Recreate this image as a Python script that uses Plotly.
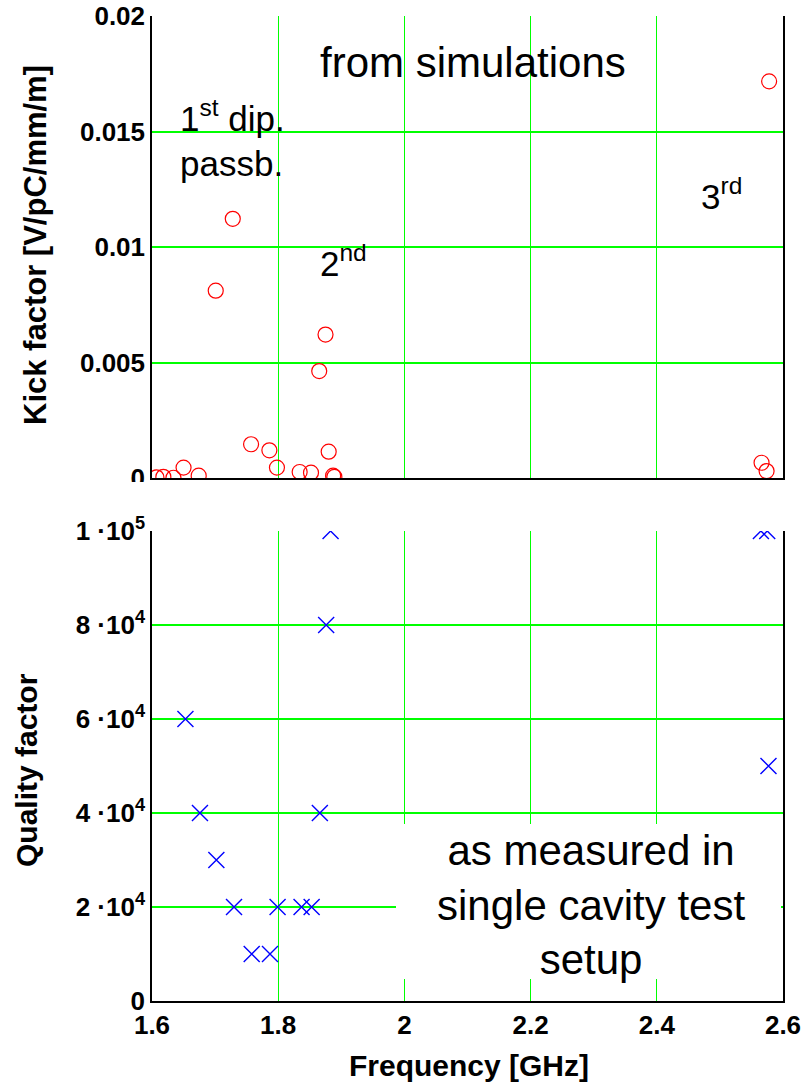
import plotly.graph_objects as go

# ---- data ----
freq_sim = [1.607, 1.618, 1.634, 1.650, 1.674, 1.701, 1.728, 1.757, 1.786, 1.798,
            1.834, 1.852, 1.865, 1.875, 1.880, 1.887, 1.889, 2.566, 2.574, 2.578]
kick_sim = [0.00003, 0.00005, 0.00001, 0.00045, 0.0001, 0.00811, 0.01122, 0.00146, 0.0012, 0.00045,
            0.00026, 0.00023, 0.00463, 0.00621, 0.00114, 0.0001, 0.00005, 0.00066, 0.0003, 0.01717]

freq_meas = [1.653, 1.676, 1.702, 1.730, 1.758, 1.787, 1.799, 1.837, 1.853, 1.866,
             1.876, 1.883, 2.565, 2.575, 2.577]
q_meas = [60000, 40000, 30000, 20000, 10000, 10000, 20000, 20000, 20000, 40000,
          80000, 100000, 100000, 100000, 50000]

x_ticks = [1.6, 1.8, 2.0, 2.2, 2.4, 2.6]
x_ticktext = ["1.6", "1.8", "2", "2.2", "2.4", "2.6"]
kick_ticks = [0, 0.005, 0.01, 0.015, 0.02]
kick_ticktext = ["0", "0.005", "0.01", "0.015", "0.02"]
q_ticks = [0, 20000, 40000, 60000, 80000, 100000]
q_ticktext = ["0", "2 ·10<sup>4</sup>", "4 ·10<sup>4</sup>", "6 ·10<sup>4</sup>",
              "8 ·10<sup>4</sup>", "1 ·10<sup>5</sup>"]

W, H = 810, 1083
ML, MR, MT, MB = 152, 27, 16, 82
plot_h = H - MT - MB
plot_w = W - ML - MR

def py(pix):  # pixel y (from top) -> paper fraction
    return (H - MB - pix) / plot_h

GREEN = "#00ff00"
tickfont = dict(family="Liberation Sans, Arial", size=26, color="black", weight="bold")

def xax(**kw):
    d = dict(range=[1.6, 2.6], tickvals=x_ticks, ticktext=x_ticktext, domain=[0, 1],
             showline=True, linecolor="black", linewidth=1.5, mirror=False,
             ticks="", tickfont=tickfont, showgrid=True, gridcolor=GREEN, gridwidth=1,
             zeroline=False)
    d.update(kw)
    return d

def yax(**kw):
    d = dict(showline=True, linecolor="black", linewidth=1.5, mirror=True,
             ticks="", tickfont=tickfont, showgrid=True, gridcolor=GREEN, gridwidth=2,
             zeroline=False)
    d.update(kw)
    return d

fig = go.Figure()
fig.add_trace(go.Scatter(x=freq_sim, y=kick_sim, mode="markers", xaxis="x", yaxis="y",
                         marker=dict(symbol="circle-open", size=15, color="#ff0000",
                                     line=dict(width=1.2, color="#ff0000")),
                         showlegend=False))
fig.add_trace(go.Scatter(x=freq_meas, y=q_meas, mode="markers", xaxis="x2", yaxis="y2",
                         marker=dict(symbol="x-thin-open", size=16, color="#0000ff",
                                     line=dict(width=1.4, color="#0000ff")),
                         showlegend=False))

shapes = [
    # white box behind the bottom-panel text
    dict(type="rect", xref="paper", yref="paper",
         x0=(396 - ML) / plot_w, x1=(781 - ML) / plot_w,
         y0=py(979), y1=py(824), fillcolor="white", line=dict(width=0), layer="above"),
    # partially hide top-panel "0" label (as in the original)
    dict(type="rect", xref="paper", yref="paper",
         x0=-0.3, x1=-0.005, y0=py(510), y1=py(482),
         fillcolor="white", line=dict(width=0), layer="above"),
]

txt = dict(family="Liberation Sans, Arial", color="black")

def tfont(size):
    return dict(family="Liberation Sans, Arial", size=size, color="black", weight="bold")

annotations = [
    dict(text="from simulations", x=2.108, y=0.0180, xref="x", yref="y",
         xanchor="center", yanchor="middle", font=dict(size=42, **txt)),
    dict(text="1<sup>st</sup> dip.<br>passb.", x=1.641, y=0.0147, xref="x", yref="y",
         xanchor="left", yanchor="middle", align="left", font=dict(size=35, **txt)),
    dict(text="2<sup>nd</sup>", x=1.8635, y=0.0094, xref="x", yref="y",
         xanchor="left", yanchor="middle", font=dict(size=35, **txt)),
    dict(text="3<sup>rd</sup>", x=2.467, y=0.0123, xref="x", yref="y",
         xanchor="left", yanchor="middle", font=dict(size=35, **txt)),
    dict(text="as measured in<br>single cavity test<br>setup", x=2.295, y=20400,
         xref="x2", yref="y2", xanchor="center", yanchor="middle", align="center",
         font=dict(size=42, **txt)),
    dict(text="Kick factor [V/pC/mm/m]", textangle=-90, xref="paper", yref="paper",
         x=0, xshift=-(ML - 36), y=py(245), xanchor="center", yanchor="middle",
         font=tfont(31)),
    dict(text="Quality factor", textangle=-90, xref="paper", yref="paper",
         x=0, xshift=-(ML - 26), y=py(770), xanchor="center", yanchor="middle",
         font=tfont(30)),
    dict(text="Frequency [GHz]", xref="paper", yref="paper",
         x=(469 - ML) / plot_w, y=0, yshift=-64, xanchor="center", yanchor="middle",
         font=tfont(30)),
]
for a in annotations:
    a["showarrow"] = False

fig.update_layout(
    template="none",
    width=W, height=H, margin=dict(l=ML, r=MR, t=MT, b=MB, pad=0),
    plot_bgcolor="white", paper_bgcolor="white", showlegend=False,
    xaxis=xax(anchor="y", showticklabels=False),
    yaxis=yax(anchor="x", domain=[py(478), 1], range=[0, 0.02],
              tickvals=kick_ticks, ticktext=kick_ticktext),
    xaxis2=xax(anchor="y2"),
    yaxis2=yax(anchor="x2", domain=[0, py(531)], range=[0, 100000],
               tickvals=q_ticks, ticktext=q_ticktext),
    shapes=shapes,
    annotations=annotations,
)

fig.write_html("out.html")
